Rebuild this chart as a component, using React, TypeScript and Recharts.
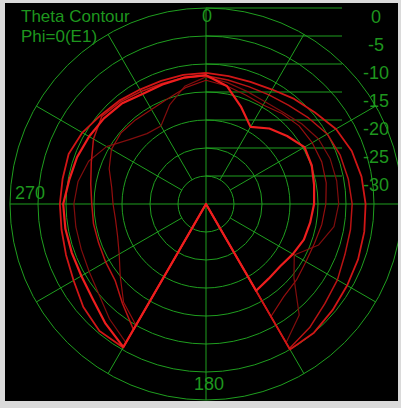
import React from "react";
import {
  RadarChart,
  Radar,
  PolarGrid,
  PolarAngleAxis,
  PolarRadiusAxis,
  ComposedChart,
  XAxis,
  YAxis,
  ReferenceLine,
} from "recharts";

// theta (deg, clockwise from top) for every sample
const ANGLES = [
  0, 10, 20, 30, 40, 50, 60, 70, 80, 90, 100, 110, 120, 130, 140, 150, 160, 170,
  180, 190, 200, 210, 220, 230, 240, 250, 260, 270, 280, 290, 300, 310, 320, 330, 340, 350,
];

// gain in dB, -35 = centre of plot
const TRACE_1 = [
  -12.0, -13.6, -16.6, -19.1, -17.4, -16.1, -14.7, -14.9, -15.4, -15.7, -16.1, -16.4,
  -17.1, -17.7, -17.6, -17.1, -35, -35, -35, -35, -35, -5.5, -7.1, -8.6, -9.3, -9.5,
  -9.5, -9.5, -10.2, -10.5, -10.9, -11.2, -11.6, -12.3, -12.3, -12.1,
];
const TRACE_2 = [
  -11.6, -11.8, -11.8, -11.4, -10.5, -9.6, -8.2, -7.3, -6.8, -6.5, -6.3, -6.1, -5.9,
  -5.5, -5.0, -5.0, -35, -35, -35, -35, -35, -5.4, -5.4, -6.4, -7.7, -8.4, -8.8, -8.9,
  -9.0, -8.9, -9.5, -10.4, -10.9, -11.4, -11.6, -11.6,
];
const TRACE_3 = [
  -12.1, -12.5, -12.7, -12.5, -12.0, -11.1, -10.0, -9.5, -9.2, -8.9, -8.8, -8.6, -7.9,
  -7.3, -6.2, -5.2, -35, -35, -35, -35, -35, -9.1, -11.8, -13.8, -14.3, -14.6, -14.6,
  -14.6, -14.1, -13.2, -11.8, -10.7, -11.2, -11.8, -12.1, -12.1,
];
const TRACE_4 = [
  -12.9, -13.6, -14.3, -14.6, -13.9, -13.3, -13.1, -13.0, -13.2, -13.6, -14.0, -14.4,
  -14.4, -13.9, -13.4, -11.8, -35, -35, -35, -35, -35, -10.0, -12.1, -15.0, -17.1,
  -18.2, -18.6, -18.4, -17.9, -16.6, -15.5, -15.2, -15.4, -15.5, -15.0, -13.9,
];
const TRACE_5 = [
  -12.3, -13.0, -13.6, -13.9, -13.6, -12.7, -11.8, -11.4, -11.3, -11.3, -11.8, -13.6,
  -16.8, -14.5, -9.1, -6.4, -35, -35, -35, -35, -35, -6.4, -8.2, -10.0, -10.9, -11.3,
  -11.4, -11.4, -11.8, -12.7, -14.5, -17.1, -18.6, -18.9, -16.1, -13.6,
];

const DB_TICKS = [0, -5, -10, -15, -20, -25, -30];
const ANGLE_LABELS = [0, 180, 270];
const TITLE_LINES = ["Theta Contour", "Phi=0(E1)"];

const SERIES = [
  { key: "t5", color: "#800d0d", width: 1.2 },
  { key: "t4", color: "#940e0e", width: 1.2 },
  { key: "t3", color: "#b81313", width: 1.5 },
  { key: "t2", color: "#d01616", width: 1.8 },
  { key: "t1", color: "#ee1e1e", width: 2.2 },
];

const rows = ANGLES.map((a, i) => ({
  angle: a,
  t1: TRACE_1[i],
  t2: TRACE_2[i],
  t3: TRACE_3[i],
  t4: TRACE_4[i],
  t5: TRACE_5[i],
}));
const dbRows = DB_TICKS.map((v) => ({ db: v }));

const GREEN = "#1f9e1f";
const TEXT_GREEN = "#1e961e";
const FONT = "'Liberation Sans', Arial, sans-serif";

const W = 393;
const H = 398;
const CX = 201;
const CY = 201;
const R = 196;

function AngleTick(props: any) {
  const { x, y, payload } = props;
  const v = payload.value;
  let anchor = "middle";
  let dx = 0;
  let dy = 0;
  if (v === 0) { dx = 1; dy = 7; }
  if (v === 180) { dx = 3; dy = -3; }
  if (v === 270) { anchor = "start"; dx = -2; dy = -5; }
  return (
    <text x={x + dx} y={y + dy} textAnchor={anchor} fill={TEXT_GREEN} fontSize={18} fontFamily={FONT}>
      {v}
    </text>
  );
}

function DbTick(props: any) {
  const { x, y, payload } = props;
  return (
    <text x={x + 34} y={y + 15} textAnchor="middle" fill={TEXT_GREEN} fontSize={18} fontFamily={FONT}>
      {payload.value}
    </text>
  );
}

const layer: React.CSSProperties = { position: "absolute", left: 0, top: 0 };

export default function App() {
  return (
    <div style={{ position: "absolute", left: 0, top: 0, width: 401, height: 408, background: "#dadada" }}>
      <div
        style={{
          position: "absolute",
          left: 5,
          top: 3,
          width: W,
          height: H,
          background: "#000",
          overflow: "hidden",
        }}
      >
        {/* diagonal spokes start at the first ring */}
        <div style={layer}>
          <RadarChart width={W} height={H} cx={CX} cy={CY} innerRadius={28} outerRadius={R} data={rows} margin={{ top: 0, right: 0, bottom: 0, left: 0 }}>
            <PolarGrid gridType="circle" stroke={GREEN} polarRadius={[]} polarAngles={[60, 30, -30, -60, -120, -150, 150, 120]} />
          </RadarChart>
        </div>

        {/* dB marker lines on the right */}
        <div style={layer}>
          <ComposedChart width={W} height={H} data={dbRows} margin={{ top: CY - R, left: CX, right: W - CX - 136 - 50, bottom: H - CY }}>
            <XAxis type="number" domain={[0, 1]} allowDataOverflow hide />
            <YAxis
              orientation="right"
              type="number"
              domain={[-35, 0]}
              allowDataOverflow
              ticks={DB_TICKS}
              tickCount={8}
              interval={0}
              width={50}
              tick={DbTick}
              tickLine={false}
              axisLine={false}
              tickSize={0}
              tickMargin={0}
            />
            {DB_TICKS.map((v) => (
              <ReferenceLine key={v} y={v} stroke={GREEN} strokeWidth={1} />
            ))}
          </ComposedChart>
        </div>

        <div style={layer}>
          <RadarChart
            width={W}
            height={H}
            cx={CX}
            cy={CY}
            innerRadius={0}
            outerRadius={R}
            startAngle={90}
            endAngle={-270}
            data={rows}
            margin={{ top: 0, right: 0, bottom: 0, left: 0 }}
          >
            <PolarGrid gridType="circle" stroke={GREEN} polarAngles={[90, 0, -90, 180]} />
            <PolarRadiusAxis type="number" domain={[-35, 0]} tickCount={8} tick={false} axisLine={false} />
            <PolarAngleAxis
              dataKey="angle"
              type="number"
              domain={[0, 360]}
              ticks={ANGLE_LABELS}
              tick={AngleTick}
              tickLine={false}
              axisLine={false}
              orientation="inner"
              tickSize={7}
            />
            {SERIES.map((s) => (
              <Radar
                key={s.key}
                dataKey={s.key}
                stroke={s.color}
                strokeWidth={s.width}
                strokeLinejoin="round"
                fill="none"
                fillOpacity={0}
                dot={false}
                isAnimationActive={false}
              />
            ))}
          </RadarChart>
        </div>

        <div
          style={{
            position: "absolute",
            left: 16,
            top: 4,
            color: TEXT_GREEN,
            fontFamily: FONT,
            fontSize: 17,
            lineHeight: "19.5px",
            whiteSpace: "nowrap",
          }}
        >
          {TITLE_LINES.map((t) => (
            <div key={t}>{t}</div>
          ))}
        </div>
      </div>
    </div>
  );
}
